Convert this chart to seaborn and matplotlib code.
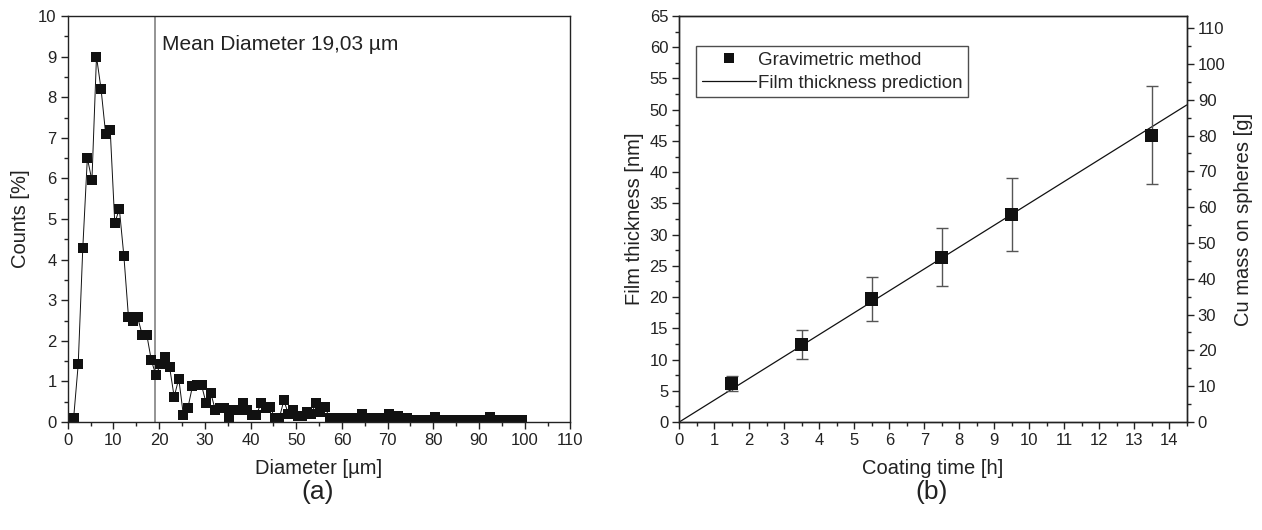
import matplotlib
matplotlib.use("Agg")
import matplotlib.pyplot as plt
from matplotlib.ticker import MultipleLocator
from matplotlib.lines import Line2D
import seaborn as sns
import pandas as pd

# ---- particle size distribution (panel a) ----
diameter_um = [
    1.3, 2.3, 3.3, 4.3, 5.3, 6.3, 7.3, 8.3, 9.3, 10.3,
    11.3, 12.3, 13.3, 14.3, 15.3, 16.3, 17.3, 18.3, 19.3, 20.3,
    21.3, 22.3, 23.3, 24.3, 25.3, 26.3, 27.3, 28.3, 29.3, 30.3,
    31.3, 32.3, 33.3, 34.3, 35.3, 36.3, 37.3, 38.3, 39.3, 40.3,
    41.3, 42.3, 43.3, 44.3, 45.3, 46.3, 47.3, 48.3, 49.3, 50.3,
    51.3, 52.3, 53.3, 54.3, 55.3, 56.3, 57.3, 58.3, 59.3, 60.3,
    61.3, 62.3, 63.3, 64.3, 65.3, 66.3, 67.3, 68.3, 69.3, 70.3,
    71.3, 72.3, 73.3, 74.3, 75.3, 76.3, 77.3, 78.3, 79.3, 80.3,
    81.3, 82.3, 83.3, 84.3, 85.3, 86.3, 87.3, 88.3, 89.3, 90.3,
    91.3, 92.3, 93.3, 94.3, 95.3, 96.3, 97.3, 98.3, 99.3,
]
counts_pct = [
    0.10, 1.42, 4.28, 6.50, 5.95, 9.00, 8.20, 7.10, 7.20, 4.90,
    5.25, 4.08, 2.58, 2.50, 2.58, 2.15, 2.15, 1.52, 1.15, 1.42,
    1.60, 1.35, 0.62, 1.07, 0.18, 0.35, 0.88, 0.90, 0.90, 0.46,
    0.72, 0.29, 0.35, 0.35, 0.10, 0.29, 0.29, 0.46, 0.29, 0.18,
    0.18, 0.46, 0.35, 0.37, 0.10, 0.10, 0.53, 0.20, 0.30, 0.15,
    0.15, 0.25, 0.20, 0.46, 0.25, 0.37, 0.10, 0.10, 0.10, 0.10,
    0.10, 0.08, 0.10, 0.20, 0.10, 0.10, 0.08, 0.10, 0.10, 0.20,
    0.10, 0.15, 0.10, 0.10, 0.06, 0.06, 0.06, 0.06, 0.06, 0.12,
    0.05, 0.05, 0.05, 0.05, 0.05, 0.05, 0.05, 0.05, 0.05, 0.05,
    0.05, 0.12, 0.05, 0.05, 0.05, 0.05, 0.05, 0.05, 0.05,
]
mean_diameter = 19.03

# ---- film thickness vs coating time (panel b) ----
coating_time_h = [1.5, 3.5, 5.5, 7.5, 9.5, 13.5]
thickness_nm = [6.2, 12.4, 19.7, 26.4, 33.2, 45.9]
thickness_err = [1.2, 2.25, 3.5, 4.7, 5.8, 7.85]
growth_rate_nm_per_h = 3.5
mass_per_nm = 113.4 / 65.0   # g of Cu per nm film thickness

sns.set_theme(style="ticks")
plt.rcParams["font.family"] = ["Liberation Sans", "DejaVu Sans"]
plt.rcParams["axes.linewidth"] = 1.0

INK = "#222222"
TICK_FS = 12
LABEL_FS = 14.5

W, H = 1262, 530
fig = plt.figure(figsize=(W / 100, H / 100), dpi=100)

def px_axes(x0, y0, x1, y1):
    return fig.add_axes([x0 / W, 1 - y1 / H, (x1 - x0) / W, (y1 - y0) / H])

def style_ticks(ax):
    ax.tick_params(which="major", direction="out", length=5, width=1,
                   labelsize=TICK_FS, colors=INK, labelcolor=INK, pad=3)
    ax.tick_params(which="minor", direction="out", length=3, width=1, colors=INK)
    for s in ax.spines.values():
        s.set_color(INK)

# Panel (a)
ax1 = px_axes(67.7, 16, 570.4, 422)
df_a = pd.DataFrame({"d": diameter_um, "c": counts_pct})
sns.lineplot(data=df_a, x="d", y="c", ax=ax1, color="#111111", linewidth=0.7,
             marker="s", markersize=7, markeredgewidth=0, markerfacecolor="#111111")
ax1.axvline(mean_diameter, color="#777777", linewidth=1.1, zorder=0)
ax1.text(mean_diameter + 1.6, 9.3, "Mean Diameter 19,03 µm", fontsize=15,
         va="center", ha="left", color=INK)
ax1.set_xlim(0, 110)
ax1.set_ylim(0, 10)
ax1.xaxis.set_major_locator(MultipleLocator(10))
ax1.xaxis.set_minor_locator(MultipleLocator(5))
ax1.yaxis.set_major_locator(MultipleLocator(1))
ax1.yaxis.set_minor_locator(MultipleLocator(0.5))
ax1.set_xlabel("Diameter [µm]", fontsize=LABEL_FS, color=INK, labelpad=8)
ax1.set_ylabel("Counts [%]", fontsize=LABEL_FS, color=INK, labelpad=6)
style_ticks(ax1)

# Panel (b)
ax2 = px_axes(679.3, 16, 1186.7, 422)
ax2.set_xlim(0, 14.5)
ax2.set_ylim(0, 65)
t_line = list(ax2.get_xlim())
df_line = pd.DataFrame({"t": t_line, "y": [growth_rate_nm_per_h * t for t in t_line]})
sns.lineplot(data=df_line, x="t", y="y", ax=ax2, color="#111111", linewidth=0.9)
ax2.errorbar(coating_time_h, thickness_nm, yerr=thickness_err, fmt="none",
             ecolor="#555555", elinewidth=1.0, capsize=4, capthick=1.0, zorder=2)
df_b = pd.DataFrame({"t": coating_time_h, "y": thickness_nm})
sns.scatterplot(data=df_b, x="t", y="y", ax=ax2, marker="s", s=90,
                color="#111111", edgecolor="none", zorder=3)
ax2.xaxis.set_major_locator(MultipleLocator(1))
ax2.xaxis.set_minor_locator(MultipleLocator(0.5))
ax2.yaxis.set_major_locator(MultipleLocator(5))
ax2.yaxis.set_minor_locator(MultipleLocator(2.5))
ax2.set_xlabel("Coating time [h]", fontsize=LABEL_FS, color=INK, labelpad=8)
ax2.set_ylabel("Film thickness [nm]", fontsize=LABEL_FS, color=INK, labelpad=4)
style_ticks(ax2)

handles = [
    Line2D([], [], linestyle="none", marker="s", markersize=7,
           markerfacecolor="#111111", markeredgewidth=0),
    Line2D([], [], color="#111111", linewidth=0.9),
]
leg = ax2.legend(handles, ["Gravimetric method", "Film thickness prediction"],
                 loc="upper left", bbox_to_anchor=(0.033, 0.926), fontsize=13.5,
                 frameon=True, fancybox=False, handlelength=2.9,
                 handletextpad=0.1, borderpad=0.3, labelspacing=0.3,
                 borderaxespad=0)
leg.get_frame().set_edgecolor(INK)
leg.get_frame().set_linewidth(1.0)

ax3 = ax2.twinx()
ax3.set_ylim(0, 65 * mass_per_nm)
ax3.yaxis.set_major_locator(MultipleLocator(10))
ax3.yaxis.set_minor_locator(MultipleLocator(5))
ax3.set_ylabel("Cu mass on spheres [g]", fontsize=LABEL_FS, color=INK, labelpad=6)
style_ticks(ax3)

fig.text(318 / W, 1 - 492 / H, "(a)", fontsize=19, ha="center", va="center", color=INK)
fig.text(932 / W, 1 - 492 / H, "(b)", fontsize=19, ha="center", va="center", color=INK)

fig.savefig("out.png", dpi=100, facecolor="white")
